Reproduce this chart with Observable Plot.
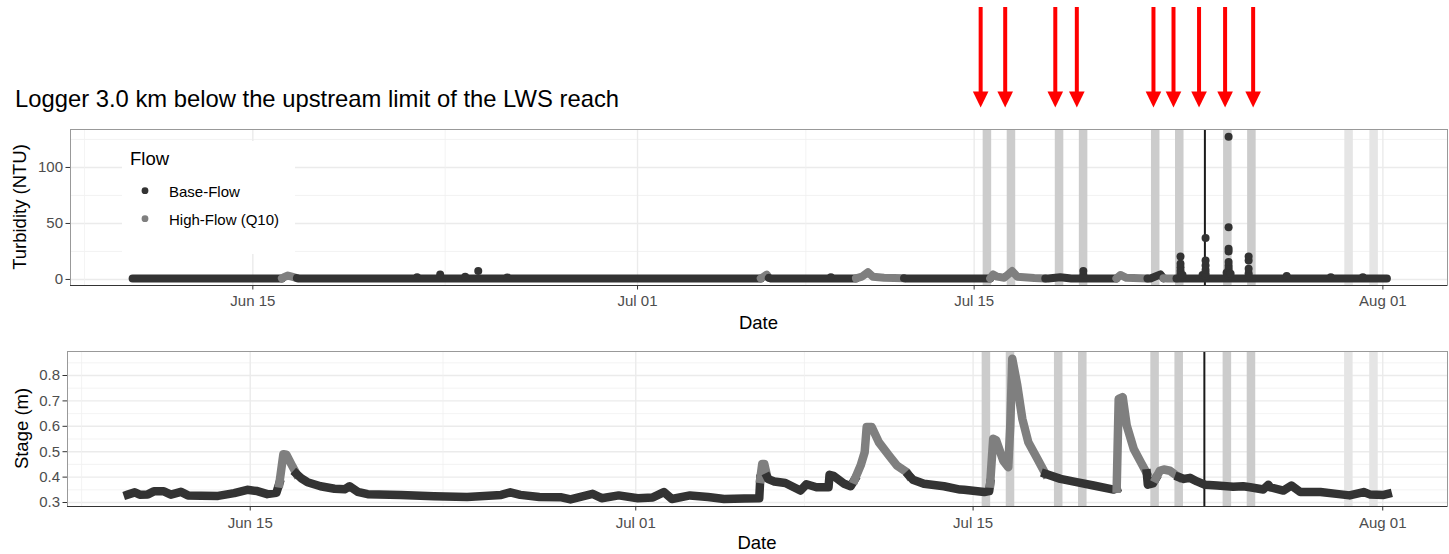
<!DOCTYPE html>
<html><head><meta charset="utf-8">
<script src="https://cdn.jsdelivr.net/npm/d3@7"></script>
<script src="https://cdn.jsdelivr.net/npm/@observablehq/plot@0.6"></script>
<style>
html,body{margin:0;padding:0;background:#fff;}
#wrap{position:relative;width:1449px;height:554px;font-family:"Liberation Sans",Arial,sans-serif;}
#wrap > svg{display:block}
#overlay{position:absolute;left:0;top:0;pointer-events:none}
</style></head><body><div id="wrap"></div>
<script>
// ---------------- DATA ----------------
const YEAR = "2019";
const flowNames = {B: "Base-Flow", H: "High-Flow (Q10)"};
const flowDomain = ["Base-Flow", "High-Flow (Q10)"];

// x-axis tick labels (major) and minor grid dates
const xTickDates = ["06-15 00:00", "07-01 00:00", "07-15 00:00", "08-01 00:00"];
const xMinorDates = ["06-08 00:00", "06-23 00:00", "07-08 00:00", "07-23 12:00"];

// y ticks
const turbTicks = [0, 50, 100];
const turbMinorTicks = [25, 75, 125];
const stageTicks = [0.3, 0.4, 0.5, 0.6, 0.7, 0.8];
const stageMinorTicks = [0.35, 0.45, 0.55, 0.65, 0.75, 0.85];

// sampling windows (grey bands), faint bands, and event marker
const bandStart = ["07-15 09:00", "07-16 09:00", "07-18 09:00", "07-19 09:00", "07-22 09:00", "07-23 09:00", "07-25 09:00", "07-26 09:00"];
const bandEnd   = ["07-15 17:30", "07-16 17:30", "07-18 17:30", "07-19 17:30", "07-22 17:30", "07-23 17:30", "07-25 17:30", "07-26 17:30"];
const lightBandStart = ["07-30 10:00", "07-31 11:00"];
const lightBandEnd   = ["07-30 18:30", "07-31 19:30"];
const markerTime = "07-24 14:20";

// red arrows (annotations)
const arrowTimes = ["07-15 06:30", "07-16 07:00", "07-18 09:00", "07-19 06:30", "07-22 11:00", "07-23 07:00", "07-24 08:30", "07-25 10:30", "07-26 14:30"];

// stage (m) series
const stageTimes = [
  "06-09 22:00","06-10 05:00","06-10 10:00","06-10 18:00","06-11 00:00","06-11 10:00","06-11 17:00","06-12 03:00","06-12 10:00","06-12 23:00","06-13 16:00","06-14 08:00","06-14 21:00","06-15 07:00","06-15 17:00","06-16 02:00","06-16 05:00",
  "06-16 09:00","06-16 12:00","06-16 17:00","06-16 22:00",
  "06-17 03:00","06-17 09:00","06-17 22:00","06-18 12:00","06-18 22:00","06-19 03:00","06-19 11:00","06-19 21:00","06-21 06:00","06-22 15:00","06-24 00:00","06-25 10:00","06-25 19:00","06-26 05:00","06-27 00:00","06-27 21:00","06-28 07:00","06-29 05:00","06-29 14:00","06-30 07:00","07-01 02:00","07-01 17:00","07-02 04:00","07-02 12:00","07-03 06:00","07-04 00:00","07-04 16:00","07-05 12:00","07-06 03:00","07-06 04:00",
  "07-06 06:00","07-06 08:00","07-06 11:00",
  "07-06 12:00","07-06 18:00","07-07 05:00","07-07 20:00","07-08 02:00","07-08 12:00","07-09 00:00","07-09 01:00","07-09 05:00","07-09 15:00","07-09 22:00","07-10 02:00",
  "07-10 08:00","07-10 12:00","07-10 14:00","07-10 19:00","07-11 02:00","07-11 12:00","07-11 20:00","07-12 06:00","07-12 08:00",
  "07-12 12:00","07-12 23:00","07-13 19:00","07-14 11:00","07-14 15:00","07-15 11:00","07-15 16:00","07-15 17:00",
  "07-15 20:00","07-15 23:00","07-16 06:00","07-16 11:00","07-16 13:00","07-16 15:00","07-16 20:00","07-17 01:00","07-17 07:00","07-17 16:00","07-18 00:00",
  "07-18 15:00","07-19 07:00","07-20 00:00","07-20 20:00","07-20 23:00",
  "07-21 01:00","07-21 05:00","07-21 09:00","07-21 16:00","07-21 23:00","07-22 05:00",
  "07-22 06:00","07-22 11:00","07-22 14:00",
  "07-22 18:00","07-22 22:00","07-23 04:00","07-23 11:00","07-23 13:00",
  "07-23 18:00","07-24 00:00","07-24 07:00","07-24 15:00","07-25 03:00","07-25 19:00","07-26 05:00","07-26 12:00","07-27 01:00","07-27 06:00","07-27 08:00","07-27 21:00","07-28 05:00","07-28 14:00","07-29 10:00","07-30 02:00","07-30 15:00","07-31 05:00","07-31 11:00","08-01 01:00","08-01 05:00"
];
const stageValues = [
  0.331,0.340,0.331,0.332,0.344,0.344,0.331,0.342,0.328,0.327,0.326,0.337,0.350,0.345,0.333,0.338,0.375,
  0.490,0.488,0.450,0.413,
  0.395,0.380,0.364,0.354,0.352,0.364,0.342,0.333,0.330,0.325,0.322,0.330,0.340,0.330,0.322,0.321,0.312,0.334,0.317,0.328,0.317,0.320,0.341,0.314,0.328,0.322,0.314,0.316,0.317,0.393,
  0.452,0.452,0.400,
  0.392,0.383,0.377,0.347,0.372,0.360,0.360,0.409,0.405,0.375,0.364,0.390,
  0.446,0.498,0.597,0.597,0.538,0.486,0.446,0.419,0.407,
  0.390,0.374,0.364,0.351,0.350,0.341,0.345,0.375,
  0.551,0.545,0.465,0.439,0.600,0.866,0.761,0.630,0.537,0.472,0.413,
  0.393,0.380,0.367,0.351,0.355,
  0.708,0.715,0.603,0.511,0.459,0.415,
  0.370,0.375,0.395,
  0.425,0.430,0.425,0.405,0.400,
  0.393,0.397,0.383,0.370,0.367,0.362,0.364,0.360,0.351,0.370,0.360,0.347,0.367,0.341,0.341,0.334,0.328,0.341,0.332,0.330,0.334
];
const stageFlow = ("BBBBBBBBBBBBBBBBB HHHH BBBBBBBBBBBBBBBBBBBBBBBBBBBBBB HHH BBBBBBBBBBBB HHHHHHHHH BBBBBBBB " +
                   "HHHHHHHHHHH BBBBB HHHHHH BBB HHHHH BBBBBBBBBBBBBBBBBBBBB").replace(/ /g, "").split("");

// turbidity (NTU) continuous record
const turbTimes = [
  "06-10 00:00","06-16 05:00",
  "06-16 08:00","06-16 11:00","06-16 15:00","06-16 20:00",
  "06-16 22:00","07-06 03:00",
  "07-06 06:00","07-06 09:00","07-06 11:00",
  "07-06 13:00","07-10 02:00",
  "07-10 08:00","07-10 14:00","07-10 19:00","07-11 06:00","07-12 02:00",
  "07-12 04:00","07-15 16:00",
  "07-15 19:00","07-15 23:00","07-16 06:00","07-16 14:00","07-16 19:00","07-17 12:00","07-17 23:00",
  "07-18 02:00","07-18 14:00","07-19 01:00","07-20 22:00",
  "07-21 02:00","07-21 08:00","07-22 05:00",
  "07-22 08:00","07-22 18:00","07-22 21:00",
  "07-23 01:00","07-23 10:00",
  "07-23 12:00","08-01 04:00"
];
const turbValues = [
  0.9,0.9,
  2.5,3.5,2.5,1.2,
  0.9,0.9,
  2.5,4.3,1.5,
  0.9,0.9,
  2.5,6.5,2.5,1.5,1.0,
  0.9,0.9,
  4.5,2.5,1.5,7.5,2.5,1.2,0.9,
  0.9,2.0,0.9,0.9,
  4.0,1.5,0.9,
  0.9,4.5,1.0,
  0.9,0.9,
  0.9,0.9
];
const turbFlow = "BB HHHH BB HHH BB HHHHH BB HHHHHHH BBBB HHH BBB HH BB".replace(/ /g, "").split("");

// individual turbidity spikes (Base-Flow)
const spikeTimes = [
  "06-21 20:00","06-22 19:00","06-23 20:00","06-24 09:00","06-25 14:00","07-09 01:00","07-19 13:00","07-19 13:00",
  "07-23 14:00","07-23 14:00","07-23 14:00","07-23 14:00","07-23 14:00","07-23 14:00","07-23 16:00",
  "07-24 12:00","07-24 15:00","07-24 15:00","07-24 15:00","07-24 15:00","07-24 15:00","07-24 15:00",
  "07-25 12:00","07-25 14:00","07-25 14:00","07-25 14:00","07-25 14:00","07-25 14:00","07-25 14:00","07-25 14:00","07-25 14:00","07-25 14:00","07-25 14:00","07-25 16:00",
  "07-26 10:00","07-26 10:00","07-26 10:00","07-26 10:00","07-26 10:00",
  "07-28 00:00","07-29 20:00","07-31 04:00"
];
const spikeValues = [
  2.0,4.5,2.5,7.5,1.8,2.0,4.0,7.5,
  3,5.5,8,11,14,20.5,4,
  4,3,5.5,8.5,12.5,17,37,
  6,3,5,7.5,10,12.5,15.5,25,27.5,46.7,127.4,5,
  3,5.5,9.5,17,20.5,
  3,2,2
];

// ---------------- BUILD ----------------
(function () {
const parse = d3.utcParse("%Y-%m-%d %H:%M");
const T = s => parse(YEAR + "-" + s);
const W = 1449;
const FONT = '"Liberation Sans", Arial, Helvetica, sans-serif';
const colors = ["#333333", "#7f7f7f"];

function segments(times, values, flows) {
  const rows = []; let seg = 0;
  for (let i = 0; i < times.length; i++) {
    if (i > 0 && flows[i] !== flows[i - 1]) {
      seg++;
      rows.push({t: T(times[i - 1]), v: values[i - 1], flow: flowNames[flows[i]], seg});
    }
    rows.push({t: T(times[i]), v: values[i], flow: flowNames[flows[i]], seg});
  }
  return rows;
}
const stageRows = segments(stageTimes, stageValues, stageFlow);
const turbRows = segments(turbTimes, turbValues, turbFlow);
const spikes = spikeTimes.map((t, i) => ({t: T(t), v: spikeValues[i]}));
const bands = bandStart.map((s, i) => ({x1: T(s), x2: T(bandEnd[i])}));
const lightBands = lightBandStart.map((s, i) => ({x1: T(s), x2: T(lightBandEnd[i])}));
const xMajor = xTickDates.map(T);
const xMinor = xMinorDates.map(T);
const xDomain = [T("06-07 10:00"), T("08-03 16:30")];
const fmt = d3.utcFormat("%b %d");

function commonMarks() {
  return [
    Plot.ruleX(xMinor, {stroke: "#F0F0F0", strokeWidth: 0.8}),
    Plot.ruleX(xMajor, {stroke: "#EBEBEB", strokeWidth: 1.4}),
    Plot.rect(bands, {x1: "x1", x2: "x2", fill: "#CCCCCC"}),
    Plot.rect(lightBands, {x1: "x1", x2: "x2", fill: "#E5E5E5"}),
    Plot.ruleX([T(markerTime)], {stroke: "#1a1a1a", strokeWidth: 2})
  ];
}

// ----- top panel (turbidity) -----
const topH = 340, topMT = 129, topMB = 55;
const topY = [-5.4, 133.9];
const yPxTop = p => topY[0] + ((topH - topMB) - p) * (topY[1] - topY[0]) / ((topH - topMB) - topMT);
const arrowHead = {draw(ctx) { ctx.moveTo(-7.8, -8); ctx.lineTo(7.8, -8); ctx.lineTo(0, 8); ctx.closePath(); }};
const arrowX = arrowTimes.map(T);

const topChart = Plot.plot({
  width: W, height: topH, marginTop: topMT, marginBottom: topMB, marginLeft: 70, marginRight: 2,
  style: {fontFamily: FONT, fontSize: "15px", color: "#000", background: "white", overflow: "visible"},
  x: {type: "utc", domain: xDomain},
  y: {domain: topY},
  color: {domain: flowDomain, range: colors},
  marks: [
    Plot.ruleY(turbMinorTicks, {stroke: "#F0F0F0", strokeWidth: 0.8}),
    Plot.ruleY(turbTicks, {stroke: "#EBEBEB", strokeWidth: 1.4}),
    ...commonMarks(),
    Plot.line(turbRows, {x: "t", y: "v", z: "seg", stroke: "flow", strokeWidth: 8, strokeLinecap: "round", strokeLinejoin: "round"}),
    Plot.dot(spikes, {x: "t", y: "v", r: 4, fill: colors[0], stroke: "none"}),
    Plot.frame({stroke: "#999999", strokeWidth: 1}),
    Plot.ruleY([topY[0]], {stroke: "#333333", strokeWidth: 1.1}),
    Plot.axisX(xMajor, {tickFormat: fmt, tickSize: 4.5, tickPadding: 5.5, stroke: "#333333", fill: "#4D4D4D", label: null}),
    Plot.axisY(turbTicks, {tickSize: 4.5, tickPadding: 3, stroke: "#333333", fill: "#4D4D4D", label: null}),
    Plot.ruleX(arrowX, {x: d => d, y1: yPxTop(7), y2: yPxTop(93), stroke: "#FF0000", strokeWidth: 4}),
    Plot.dot(arrowX, {x: d => d, y: yPxTop(99), symbol: arrowHead, fill: "#FF0000", stroke: "none"})
  ]
});

// ----- bottom panel (stage) -----
const botY = [0.2843, 0.8945];
const bottomChart = Plot.plot({
  width: W, height: 214, marginTop: 11, marginBottom: 48, marginLeft: 67, marginRight: 2,
  style: {fontFamily: FONT, fontSize: "15px", color: "#000", background: "white", overflow: "visible"},
  x: {type: "utc", domain: xDomain},
  y: {domain: botY},
  color: {domain: flowDomain, range: colors},
  marks: [
    Plot.ruleY(stageMinorTicks, {stroke: "#F0F0F0", strokeWidth: 0.8}),
    Plot.ruleY(stageTicks, {stroke: "#EBEBEB", strokeWidth: 1.4}),
    ...commonMarks(),
    Plot.line(stageRows, {x: "t", y: "v", z: "seg", stroke: "flow", strokeWidth: 8.5, strokeLinecap: "square", strokeLinejoin: "round"}),
    Plot.frame({stroke: "#999999", strokeWidth: 1}),
    Plot.ruleY([botY[0]], {stroke: "#333333", strokeWidth: 1.1}),
    Plot.axisX(xMajor, {tickFormat: fmt, tickSize: 4.5, tickPadding: 6, stroke: "#333333", fill: "#4D4D4D", label: null}),
    Plot.axisY(stageTicks, {tickFormat: d3.format(".1f"), tickSize: 4.5, tickPadding: 3, stroke: "#333333", fill: "#4D4D4D", label: null})
  ]
});

const wrap = document.getElementById("wrap");
wrap.appendChild(topChart);
wrap.appendChild(bottomChart);

// ----- overlay: title, legend, axis titles -----
const ov = d3.select(wrap).append("svg").attr("id", "overlay")
  .attr("width", W).attr("height", 554).attr("font-family", FONT);
ov.append("text").attr("x", 15).attr("y", 107).attr("font-size", 23.8).attr("fill", "#000")
  .text("Logger 3.0 km below the upstream limit of the LWS reach");
ov.append("rect").attr("x", 122).attr("y", 141).attr("width", 173).attr("height", 113).attr("fill", "white");
ov.append("text").attr("x", 130).attr("y", 164.7).attr("font-size", 18.5).text("Flow");
flowDomain.forEach((name, i) => {
  const cy = [190.7, 218.7][i];
  ov.append("circle").attr("cx", 145).attr("cy", cy).attr("r", 3.4).attr("fill", colors[i]);
  ov.append("text").attr("x", 169).attr("y", cy + 6.2).attr("font-size", 15).text(name);
});
ov.append("text").attr("x", 758.5).attr("y", 329).attr("font-size", 18.5).attr("text-anchor", "middle").text("Date");
ov.append("text").attr("x", 757).attr("y", 549).attr("font-size", 18.5).attr("text-anchor", "middle").text("Date");
ov.append("text").attr("transform", "translate(26,207) rotate(-90)").attr("font-size", 18.5).attr("text-anchor", "middle").text("Turbidity (NTU)");
ov.append("text").attr("transform", "translate(27.5,428.5) rotate(-90)").attr("font-size", 18.5).attr("text-anchor", "middle").text("Stage (m)");

if (stageTimes.length !== stageValues.length || stageTimes.length !== stageFlow.length) console.error("stage length mismatch", stageTimes.length, stageValues.length, stageFlow.length);
if (turbTimes.length !== turbValues.length || turbTimes.length !== turbFlow.length) console.error("turb length mismatch");
if (spikeTimes.length !== spikeValues.length) console.error("spike mismatch");
})();
</script></body></html>
